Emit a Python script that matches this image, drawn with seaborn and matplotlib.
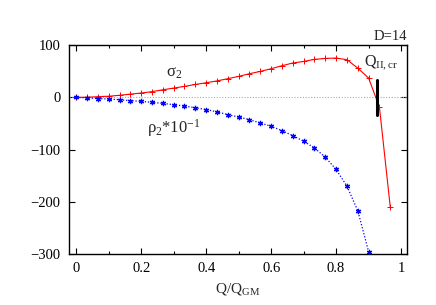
import numpy as np
import pandas as pd
import seaborn as sns
import matplotlib
matplotlib.use("Agg")
import matplotlib.pyplot as plt
from matplotlib.ticker import MultipleLocator

# Data (x in steps of 1/30)
sigma_x = [0, 1/30, 2/30, 3/30, 4/30, 5/30, 6/30, 7/30, 8/30, 9/30, 10/30,
           11/30, 12/30, 13/30, 14/30, 15/30, 16/30, 17/30, 18/30, 19/30, 20/30,
           21/30, 22/30, 23/30, 24/30, 25/30, 26/30, 27/30, 28/30, 29/30]
sigma_y = [0, 0.3, 1.3, 2.2, 4, 6.2, 8.3, 11, 14.5, 17.8, 21, 24.7, 28, 31.5,
           35.8, 40.2, 45.3, 49.7, 54.9, 60.6, 65.8, 68.8, 72.7, 74.6, 75.3,
           72.1, 56, 37, -19, -210]

rho_x = [0, 1/30, 2/30, 3/30, 4/30, 5/30, 6/30, 7/30, 8/30, 9/30, 10/30,
         11/30, 12/30, 13/30, 14/30, 15/30, 16/30, 17/30, 18/30, 19/30, 20/30,
         21/30, 22/30, 23/30, 24/30, 25/30, 26/30, 27/30]
rho_y = [0, -1.0, -2.3, -3.2, -4.5, -6.4, -7.6, -9.6, -11.5, -14, -16.6, -19.8,
         -23.3, -27.7, -33.1, -37.6, -42.7, -49, -55.4, -63.7, -73.2, -84,
         -96.8, -114.5, -138, -170, -217, -295.5]

bar_x = 0.926
bar_y = [-34, 34]

sns.set_theme(style="ticks")
plt.rcParams['font.family'] = ['Liberation Serif', 'DejaVu Serif']
plt.rcParams['mathtext.fontset'] = 'custom'
plt.rcParams['mathtext.rm'] = 'Liberation Serif'
plt.rcParams['mathtext.it'] = 'Liberation Serif'

fig = plt.figure(figsize=(4.36, 3.05), dpi=100)
ax = fig.add_axes([0.158, 0.167, 0.775, 0.685])

df_s = pd.DataFrame({"x": sigma_x, "y": sigma_y})
df_r = pd.DataFrame({"x": rho_x, "y": rho_y})

ax.axhline(0, color="#aaaaaa", lw=0.8, ls=(0, (1, 1.5)), zorder=1)

sns.lineplot(data=df_s, x="x", y="y", ax=ax, color="red", lw=0.8,
             marker="+", markersize=4.5, markeredgewidth=0.7,
             markeredgecolor="red", sort=False, zorder=3)
sns.lineplot(data=df_r, x="x", y="y", ax=ax, color="blue", lw=0.9,
             linestyle=(0, (1, 1.5)), marker=(6, 2, 0), markersize=3.8,
             markeredgewidth=0.9, markeredgecolor="blue", sort=False, zorder=3)

ax.plot([bar_x, bar_x], bar_y, color="black", lw=2.2, zorder=4)

ax.set_xlim(-0.0225, 1.0175)
ax.set_ylim(-300, 100)
ax.xaxis.set_major_locator(MultipleLocator(0.2))
ax.xaxis.set_minor_locator(MultipleLocator(0.1))
ax.yaxis.set_major_locator(MultipleLocator(100))
ax.set_xticks([0, 0.2, 0.4, 0.6, 0.8, 1.0])
ax.set_xticklabels(["0", "0.2", "0.4", "0.6", "0.8", "1"])
ax.tick_params(which="both", direction="in", top=True, right=True,
               labelsize=10.5, colors="black", width=0.8, pad=6)
ax.tick_params(which="major", length=4)
ax.tick_params(which="minor", length=2.5)
for s in ax.spines.values():
    s.set_color("black")
    s.set_linewidth(1.0)

ax.set_xlabel(r"Q/Q$_{\mathrm{GM}}$", fontsize=11, labelpad=4)
ax.set_ylabel("")

ax.text(0.3, 47, r"$\mathrm{\sigma}_2$", fontsize=12, ha="center", va="center")
ax.text(0.218, -58, r"$\mathrm{\rho}_2$*10$^{-1}$", fontsize=12, ha="left", va="center")
ax.text(0.885, 66, r"Q$_{\mathrm{II,cr}}$", fontsize=11.5, ha="left", va="center")
ax.text(1.0, 1.01, "D=14", transform=ax.transAxes, fontsize=10.5, ha="right", va="bottom")

fig.savefig("out.png", dpi=100)
